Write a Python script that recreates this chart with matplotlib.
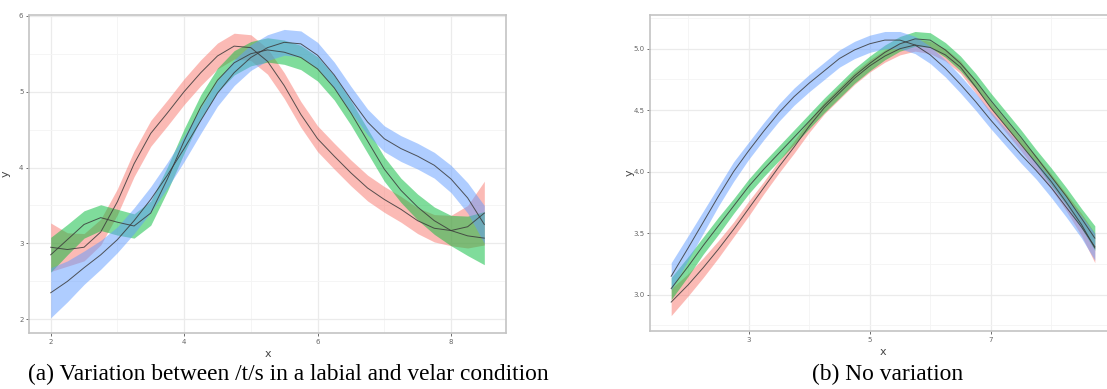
import numpy as np
import matplotlib.pyplot as plt

# panel (a): smoothed curves
xa = [2.00, 2.25, 2.50, 2.75, 3.00, 3.25, 3.50, 3.75, 4.00, 4.25, 4.50, 4.75, 5.00, 5.25,
      5.50, 5.75, 6.00, 6.25, 6.50, 6.75, 7.00, 7.25, 7.50, 7.75, 8.00, 8.25, 8.50]
red_a = [2.95, 2.92, 2.95, 3.15, 3.55, 4.05, 4.45, 4.72, 5.00, 5.25, 5.47, 5.60, 5.58, 5.40,
         5.08, 4.70, 4.38, 4.15, 3.93, 3.73, 3.58, 3.45, 3.30, 3.20, 3.17, 3.22, 3.40]
green_a = [2.85, 3.05, 3.25, 3.34, 3.28, 3.23, 3.40, 3.85, 4.35, 4.80, 5.15, 5.38, 5.50, 5.55,
           5.52, 5.45, 5.30, 5.05, 4.72, 4.35, 3.98, 3.70, 3.48, 3.30, 3.17, 3.10, 3.07]
blue_a = [2.35, 2.50, 2.68, 2.85, 3.05, 3.30, 3.58, 3.90, 4.25, 4.62, 4.98, 5.25, 5.45, 5.58,
          5.65, 5.63, 5.48, 5.22, 4.90, 4.60, 4.38, 4.25, 4.15, 4.03, 3.85, 3.60, 3.25]
red_a_se = [0.32, 0.22, 0.18, 0.17, 0.17, 0.17, 0.17, 0.17, 0.17, 0.17, 0.17, 0.17, 0.17, 0.17,
            0.17, 0.17, 0.17, 0.17, 0.17, 0.17, 0.17, 0.17, 0.17, 0.18, 0.20, 0.28, 0.42]
green_a_se = [0.23, 0.20, 0.18, 0.17, 0.17, 0.16, 0.16, 0.16, 0.16, 0.16, 0.16, 0.16, 0.16, 0.16,
              0.16, 0.16, 0.16, 0.16, 0.16, 0.16, 0.16, 0.16, 0.17, 0.18, 0.20, 0.26, 0.35]
blue_a_se = [0.33, 0.27, 0.22, 0.19, 0.17, 0.17, 0.17, 0.17, 0.17, 0.17, 0.17, 0.17, 0.17, 0.17,
             0.17, 0.17, 0.17, 0.17, 0.17, 0.17, 0.17, 0.17, 0.17, 0.17, 0.18, 0.20, 0.25]

# panel (b)
xb = [1.72, 2.00, 2.25, 2.50, 2.75, 3.00, 3.25, 3.50, 3.75, 4.00, 4.25, 4.50, 4.75, 5.00, 5.25,
      5.50, 5.75, 6.00, 6.25, 6.50, 6.75, 7.00, 7.25, 7.50, 7.75, 8.00, 8.25, 8.50, 8.72]
red_b = [2.94, 3.08, 3.22, 3.37, 3.53, 3.70, 3.87, 4.04, 4.20, 4.37, 4.52, 4.64, 4.76, 4.86, 4.94,
         5.00, 5.03, 5.01, 4.95, 4.85, 4.69, 4.52, 4.37, 4.22, 4.07, 3.92, 3.75, 3.57, 3.38]
green_b = [3.05, 3.23, 3.40, 3.56, 3.72, 3.88, 4.02, 4.15, 4.28, 4.41, 4.54, 4.66, 4.78, 4.88, 4.97,
           5.04, 5.08, 5.07, 4.99, 4.88, 4.74, 4.58, 4.43, 4.28, 4.12, 3.96, 3.80, 3.62, 3.46]
blue_b = [3.15, 3.38, 3.59, 3.80, 4.00, 4.17, 4.33, 4.48, 4.61, 4.72, 4.82, 4.92, 4.99, 5.04, 5.07,
          5.07, 5.03, 4.95, 4.84, 4.71, 4.57, 4.42, 4.28, 4.14, 4.01, 3.87, 3.71, 3.55, 3.39]
red_b_se = [0.11, 0.09, 0.08, 0.07, 0.06, 0.06, 0.05, 0.05, 0.05, 0.05, 0.05, 0.05, 0.05, 0.05, 0.05,
            0.05, 0.05, 0.05, 0.05, 0.05, 0.05, 0.05, 0.05, 0.05, 0.06, 0.06, 0.07, 0.09, 0.12]
green_b_se = [0.09, 0.08, 0.07, 0.07, 0.06, 0.06, 0.06, 0.06, 0.06, 0.06, 0.06, 0.06, 0.06, 0.06, 0.06,
              0.06, 0.06, 0.06, 0.06, 0.06, 0.06, 0.06, 0.06, 0.06, 0.06, 0.07, 0.07, 0.08, 0.10]
blue_b_se = [0.11, 0.10, 0.09, 0.08, 0.08, 0.07, 0.07, 0.07, 0.07, 0.07, 0.07, 0.07, 0.07, 0.07, 0.07,
             0.07, 0.07, 0.07, 0.07, 0.07, 0.07, 0.07, 0.07, 0.07, 0.07, 0.08, 0.08, 0.09, 0.11]

colors = ["#F8766D", "#00BA38", "#619CFF"]

W, H = 1107, 389
fig = plt.figure(figsize=(W / 100, H / 100), dpi=100)
plt.rcParams['font.family'] = ['DejaVu Sans']


def box(l, r, t, b):
    return [l / W, 1 - b / H, (r - l) / W, (b - t) / H]


def style(ax):
    for s in ax.spines.values():
        s.set_color("#c4c4c4")
        s.set_linewidth(1.2)
    ax.set_facecolor("white")
    ax.grid(which="major", color="#ebebeb", lw=0.9)
    ax.grid(which="minor", color="#f4f4f4", lw=0.6)
    ax.set_axisbelow(True)
    ax.tick_params(which="major", length=2, width=0.6, color="#555555",
                   labelsize=5, labelcolor="#666666", pad=2)
    ax.tick_params(which="minor", length=0)


def smooth(ax, x, ys, ses):
    x = np.array(x)
    for y, se, c in zip(ys, ses, colors):
        y = np.array(y)
        se = np.array(se)
        ax.fill_between(x, y - se, y + se, color=c, alpha=0.5, lw=0)
        ax.plot(x, y, color="#3a3a3a", lw=0.7, alpha=0.85, solid_joinstyle="round")


ax1 = fig.add_axes(box(29, 506, 15, 333))
smooth(ax1, xa, [red_a, green_a, blue_a], [red_a_se, green_a_se, blue_a_se])
ax1.set_xlim(1.675, 8.825)
ax1.set_ylim(1.82, 6.01)
ax1.set_xticks([2, 4, 6, 8])
ax1.set_xticks([3, 5, 7], minor=True)
ax1.set_yticks([2, 3, 4, 5, 6])
ax1.set_yticks([2.5, 3.5, 4.5, 5.5], minor=True)
style(ax1)
ax1.set_xlabel("x", fontsize=8, color="#444444", labelpad=3)
ax1.set_ylabel("y", fontsize=8, color="#444444", labelpad=6)

ax2 = fig.add_axes(box(650, 1116, 15, 331))
smooth(ax2, xb, [red_b, green_b, blue_b], [red_b_se, green_b_se, blue_b_se])
ax2.set_xlim(1.37, 9.07)
ax2.set_ylim(2.705, 5.274)
ax2.set_xticks([3, 5, 7])
ax2.set_xticks([2, 4, 6, 8, 9], minor=True)
ax2.set_yticks([3.0, 3.5, 4.0, 4.5, 5.0])
ax2.set_yticks([2.75, 3.25, 3.75, 4.25, 4.75, 5.25], minor=True)
ax2.set_yticklabels(["3.0", "3.5", "4.0", "4.5", "5.0"])
style(ax2)
ax2.set_xlabel("x", fontsize=8, color="#444444", labelpad=3)
ax2.set_ylabel("y", fontsize=8, color="#444444", labelpad=-1)

fig.text(288 / W, 1 - 374 / H, "(a) Variation between /t/s in a labial and velar condition",
         ha="center", va="center", fontsize=16.8, family="Liberation Serif")
fig.text(888 / W, 1 - 374 / H, "(b) No variation",
         ha="center", va="center", fontsize=16.8, family="Liberation Serif")

fig.savefig("out.png", dpi=100)
